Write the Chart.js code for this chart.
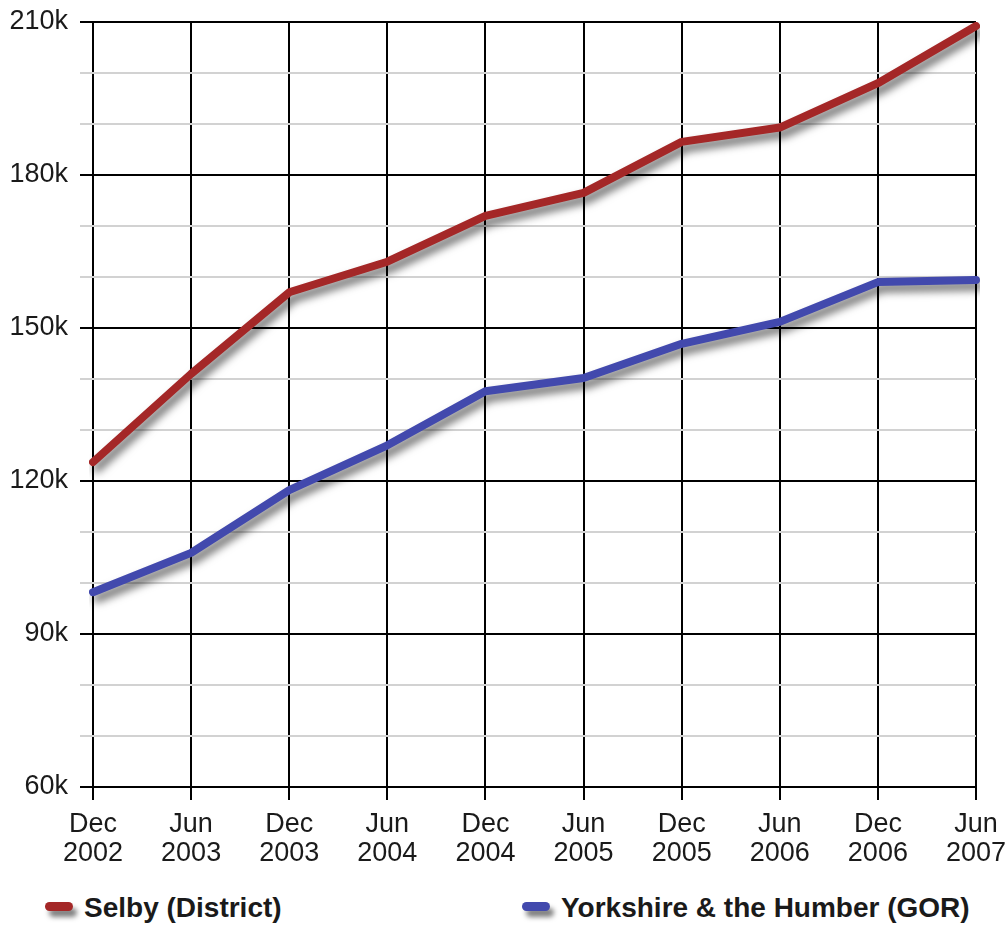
<!DOCTYPE html>
<html>
<head>
<meta charset="utf-8">
<script src="https://cdn.jsdelivr.net/npm/chart.js@4/dist/chart.umd.min.js"></script>
<style>
body { margin:0; background:#fff; font-family:"Liberation Sans", Arial, sans-serif; }
#wrap { position:relative; width:1008px; height:880px; }
#legend { position:relative; width:1008px; height:46px; }
.item { position:absolute; top:0; height:46px; font-weight:bold; font-size:28px; color:#1a1a1a; line-height:56px; white-space:nowrap; }
.mark { position:absolute; width:28px; height:9px; border-radius:5px; top:22px; box-shadow:4px 6px 5px rgba(0,0,0,0.5); }
</style>
</head>
<body>
<div id="wrap"><canvas id="gamecanvas_chart"></canvas></div>
<div id="legend"></div>
<script>
var labels = [["Dec","2002"],["Jun","2003"],["Dec","2003"],["Jun","2004"],["Dec","2004"],["Jun","2005"],["Dec","2005"],["Jun","2006"],["Dec","2006"],["Jun","2007"]];
var selby = [123700, 141000, 157000, 163000, 172000, 176500, 186500, 189300, 198000, 209200];
var yorkshire = [98200, 105900, 118200, 127000, 137600, 140200, 146900, 151200, 159000, 159400];
var seriesNames = ["Selby (District)", "Yorkshire & the Humber (GOR)"];
var seriesColors = ["#a42727", "#4249ad"];
var legendLeft = [45, 522];

var shadow = {
	id: "shadow",
	beforeDatasetsDraw: function(chart) {
		var ctx = chart.ctx;
		ctx.save();
		ctx.shadowColor = "rgba(0,0,0,0.6)";
		ctx.shadowBlur = 8;
		ctx.shadowOffsetX = 4;
		ctx.shadowOffsetY = 6;
	},
	afterDatasetsDraw: function(chart) {
		chart.ctx.restore();
	}
};

var ctx = document.getElementById("gamecanvas_chart").getContext("2d");
var chart = new Chart(ctx, {
	type: "line",
	data: {
		labels: labels,
		datasets: [
			{ label: seriesNames[0], data: selby, borderColor: seriesColors[0], backgroundColor: seriesColors[0] },
			{ label: seriesNames[1], data: yorkshire, borderColor: seriesColors[1], backgroundColor: seriesColors[1] }
		]
	},
	options: {
		responsive: true,
		maintainAspectRatio: false,
		animation: false,
		layout: { padding: { top: 22, right: 32, left: 0, bottom: 0 } },
		elements: {
			line: { borderWidth: 8, tension: 0, borderCapStyle: "round", borderJoinStyle: "round" },
			point: { radius: 0, hoverRadius: 0 }
		},
		plugins: { legend: { display: false }, tooltip: { enabled: false } },
		scales: {
			x: {
				offset: false,
				grid: { color: "#000", lineWidth: 2, tickLength: 13, tickColor: "#000" },
				border: { display: false },
				ticks: { color: "#1a1a1a", font: { family: "Liberation Sans", size: 27, lineHeight: 1.07 }, padding: 10, maxRotation: 0, autoSkip: false },
				afterFit: function(scale) { scale.height = 93; scale.paddingLeft = 0; scale.paddingRight = 0; }
			},
			y: {
				min: 60000,
				max: 210000,
				grid: {
					lineWidth: 2,
					tickLength: 13,
					color: function(c) { return c.tick && c.tick.value % 30000 === 0 ? "#000" : "#d2d2d2"; },
					tickColor: function(c) { return c.tick && c.tick.value % 30000 === 0 ? "#000" : "#d2d2d2"; }
				},
				border: { display: false },
				ticks: {
					stepSize: 10000,
					color: "#1a1a1a",
					padding: 12,
					font: { family: "Liberation Sans", size: 27 },
					callback: function(v) { return v % 30000 === 0 ? (v / 1000) + "k" : ""; }
				},
				afterFit: function(scale) { scale.width = 93; scale.paddingTop = 0; scale.paddingBottom = 0; }
			}
		}
	},
	plugins: [shadow]
});

var legend = document.getElementById("legend");
for (var i = 0; i < seriesNames.length; i++) {
	var item = document.createElement("div");
	item.className = "item";
	item.style.left = legendLeft[i] + "px";
	item.style.paddingLeft = "39px";
	var mark = document.createElement("div");
	mark.className = "mark";
	mark.style.left = "0px";
	mark.style.background = seriesColors[i];
	item.appendChild(mark);
	item.appendChild(document.createTextNode(seriesNames[i]));
	legend.appendChild(item);
}
</script>
</body>
</html>
